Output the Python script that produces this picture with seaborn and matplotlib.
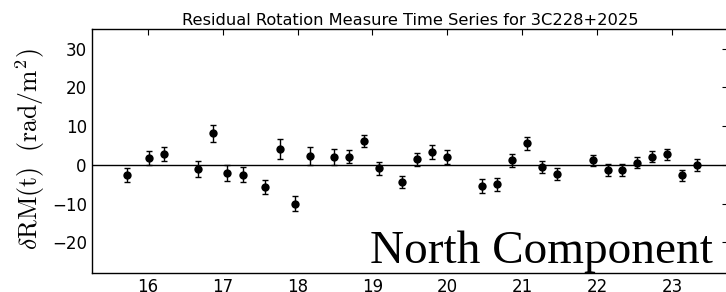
import numpy as np
import pandas as pd
import seaborn as sns
import matplotlib
matplotlib.use("Agg")
import matplotlib.pyplot as plt

# residual RM values
epoch = [15.72, 16.02, 16.22, 16.67, 16.87, 17.06, 17.27, 17.56, 17.76, 17.97,
         18.17, 18.49, 18.69, 18.89, 19.09, 19.40, 19.60, 19.80, 20.00, 20.47,
         20.67, 20.87, 21.07, 21.27, 21.47, 21.95, 22.14, 22.34, 22.54, 22.74,
         22.94, 23.14, 23.34]
d_rm = [-2.6, 1.7, 2.8, -1.1, 8.1, -2.1, -2.5, -5.7, 4.1, -10.0,
        2.2, 2.1, 2.1, 6.2, -0.9, -4.5, 1.4, 3.3, 2.0, -5.5,
        -5.0, 1.2, 5.6, -0.5, -2.3, 1.2, -1.3, -1.3, 0.6, 2.1,
        2.7, -2.7, 0.0]
d_rm_err = [1.7, 1.75, 1.75, 2.0, 2.1, 2.0, 1.9, 1.9, 2.7, 2.0,
            2.3, 2.05, 1.7, 1.6, 1.6, 1.55, 1.6, 1.7, 1.75, 1.8,
            1.7, 1.67, 1.7, 1.6, 1.6, 1.4, 1.55, 1.5, 1.46, 1.46,
            1.5, 1.4, 1.54]

df = pd.DataFrame({"t": epoch, "rm": d_rm, "err": d_rm_err})

sns.set_style("white")
plt.rcParams["mathtext.fontset"] = "cm"
plt.rcParams["font.family"] = ["DejaVu Sans"]
plt.rcParams["text.color"] = "black"

fig = plt.figure(figsize=(7.26, 2.92), dpi=100)
ax = fig.add_axes([0.1263, 0.064, 0.8765, 0.8357])

ax.axhline(0, color="black", lw=1.0, zorder=1)
ax.errorbar(df["t"], df["rm"], yerr=df["err"], fmt="none", ecolor="black",
            elinewidth=1.0, capsize=2.3, capthick=1.0, zorder=2)
sns.scatterplot(data=df, x="t", y="rm", ax=ax, color="black", s=36,
                edgecolor="black", linewidth=0, zorder=3)

ax.set_xlim(15.25, 23.75)
ax.set_ylim(-28, 35)
ax.set_xticks(range(16, 24))
ax.set_yticks([-20, -10, 0, 10, 20, 30])
ax.tick_params(direction="in", top=True, right=True, length=4, width=0.8,
               labelsize=12, colors="black")
for s in ax.spines.values():
    s.set_color("black")
    s.set_linewidth(1.0)

ax.set_xlabel("")
ax.set_ylabel(r"$\delta\mathrm{RM(t)}\ \ (\mathrm{rad/m^2})$", fontsize=18.5,
              color="black")
ax.yaxis.set_label_coords(-0.07, 0.51)
ax.set_title("Residual Rotation Measure Time Series for 3C228+2025",
             fontsize=11.7, pad=3, color="black")

ax.text(0.976, 0.042, "North Component", transform=ax.transAxes,
        ha="right", va="baseline", fontsize=34, family="Liberation Serif",
        color="black")

fig.savefig("out.png", dpi=100)
